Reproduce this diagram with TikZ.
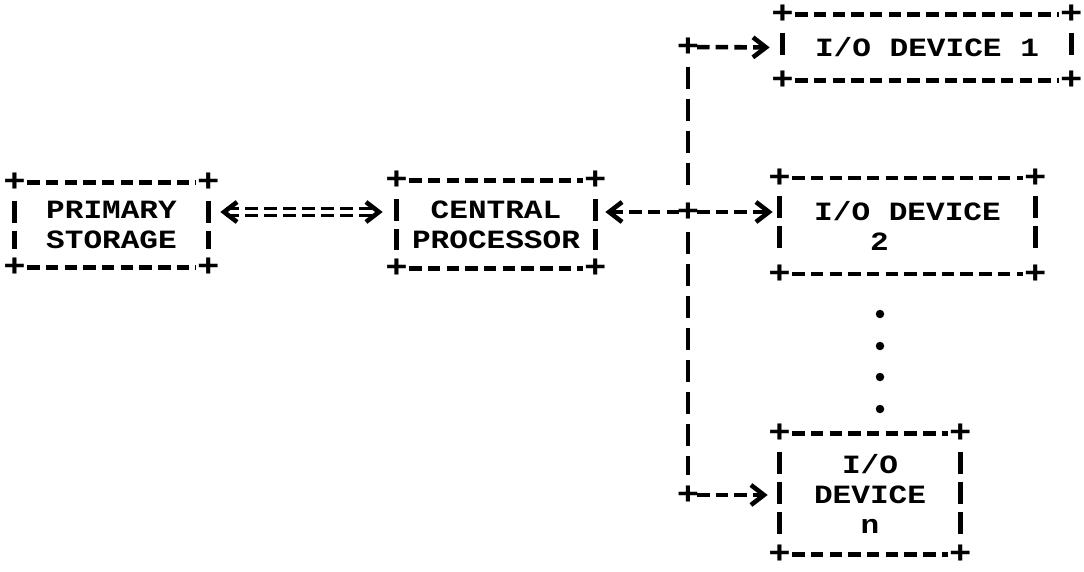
\documentclass[tikz,border=0pt]{standalone}
\usepackage{fontspec}
\setmonofont{Liberation Mono}[FakeStretch=1.18]
\usetikzlibrary{arrows.meta}

\begin{document}
\begin{tikzpicture}[x=0.02cm, y=-0.02cm,
  font=\ttfamily\bfseries\fontsize{15}{17}\selectfont,
  box/.style={inner sep=0pt, align=center},
  crn/.style={inner sep=0pt, font=\ttfamily\bfseries\fontsize{18}{18}\selectfont},
  hline/.style={line width=2.6pt, dash pattern=on 0.25cm off 0.124cm, shorten <=0.25cm, shorten >=0.25cm},
  vline/.style={line width=2.6pt, dash pattern=on 0.44cm off 0.16cm, shorten <=0.36cm, shorten >=0.36cm},
  bus/.style={line width=2.6pt, dash pattern=on 0.44cm off 0.2cm, shorten <=0.4cm, shorten >=0.4cm},
  link/.style={line width=2.6pt, dash pattern=on 0.25cm off 0.124cm, shorten <=0.18cm, -{Straight Barb[length=0.26cm, width=0.4cm]}},
  eq/.style={double, line width=1.6pt, double distance=2.2pt, dash pattern=on 0.26cm off 0.12cm, {Straight Barb[length=0.26cm, width=0.4cm, line width=2.6pt]}-{Straight Barb[length=0.26cm, width=0.4cm, line width=2.6pt]}, shorten <=0.24cm, shorten >=0.28cm}]
\useasboundingbox (0,0) rectangle (1084,571);
% boxes
\node[box, minimum width=3.86cm, minimum height=1.68cm] (ps) at (111.5,225) {PRIMARY\\STORAGE};
\node[box, minimum width=3.96cm, minimum height=1.74cm] (cp) at (496,224.5) {CENTRAL\\PROCESSOR};
\node[box, minimum width=5.76cm, minimum height=1.3cm] (d1) at (927,47.5) {I/O DEVICE 1};
\node[box, minimum width=5.1cm, minimum height=1.9cm, align=left] (d2) at (907.5,226) {I/O DEVICE\\\phantom{I/O}2};
\node[box, minimum width=3.6cm, minimum height=2.4cm] (dn) at (870,494) {I/O\\DEVICE\\n};
\foreach \b in {ps,cp,d1,d2,dn} {
  \draw[hline] (\b.north west) -- (\b.north east);
  \draw[hline] (\b.south west) -- (\b.south east);
  \draw[vline] (\b.north west) -- (\b.south west);
  \draw[vline] (\b.north east) -- (\b.south east);
  \foreach \c in {north west,north east,south west,south east}
    \node[crn] at (\b.\c) {+};
}
% bus
\coordinate (j1) at (688,47);
\coordinate (j2) at (688,212);
\coordinate (j3) at (688,495);
\draw[bus] (j1) -- (j2);
\draw[bus] (j2) -- (j3);
\foreach \j in {j1,j2,j3}
  \node[crn] at (\j) {+};
% connectors
\draw[eq] (ps.east |- j2) -- (cp.west |- j2);
\draw[link, shorten >=0.2cm] (j2) -- (cp.east |- j2);
\draw[link, shorten >=0.14cm] (j2) -- (d2.west |- j2);
\draw[link, shorten >=0.26cm] (j1) -- (d1.west);
\draw[link, shorten >=0.24cm] (j3) -- (dn.west |- j3);
% dots
\foreach \y in {314,346,377,409}
  \fill (880,\y) circle (0.085cm);
\end{tikzpicture}
\end{document}
